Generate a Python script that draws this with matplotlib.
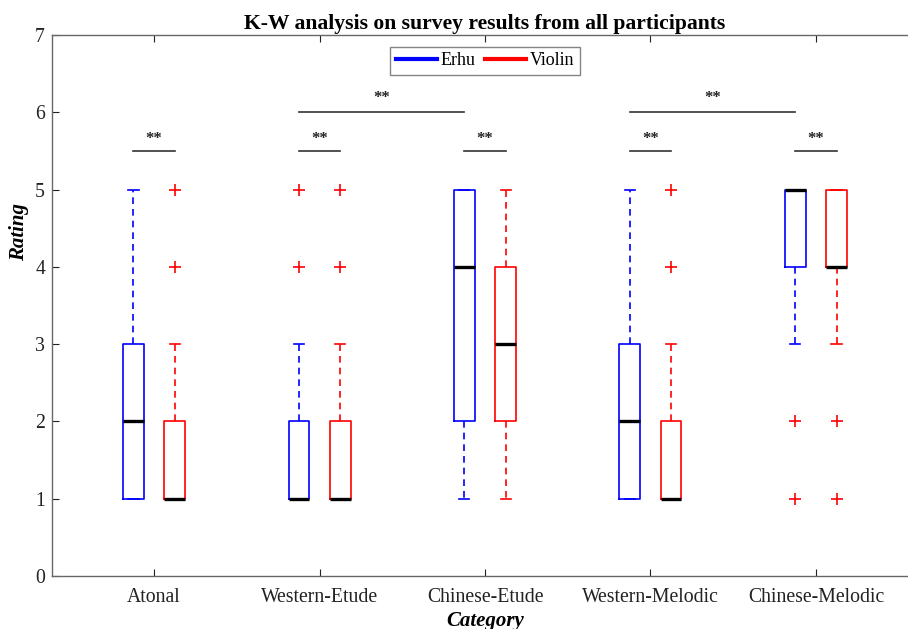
import matplotlib
matplotlib.use('Agg')
import matplotlib.pyplot as plt
from matplotlib.lines import Line2D

plt.rcParams['font.family'] = ['Liberation Serif', 'DejaVu Serif']

# Categorias e estatisticas (Erhu / Violin)
categories = ['Atonal', 'Western-Etude', 'Chinese-Etude', 'Western-Melodic', 'Chinese-Melodic']

erhu_whislo = [1, 1, 1, 1, 3]
erhu_q1 = [1, 1, 2, 1, 4]
erhu_med = [2, 1, 4, 2, 5]
erhu_q3 = [3, 2, 5, 3, 5]
erhu_whishi = [5, 3, 5, 5, 5]
erhu_fliers = [[], [4, 5], [], [], [1, 2]]

violin_whislo = [1, 1, 1, 1, 3]
violin_q1 = [1, 1, 2, 1, 4]
violin_med = [1, 1, 3, 1, 4]
violin_q3 = [2, 2, 4, 2, 5]
violin_whishi = [3, 3, 5, 3, 5]
violin_fliers = [[4, 5], [4, 5], [], [4, 5], [1, 2]]

# Barras de significancia: (x inicio, x fim, y, texto)
sig_x0 = [0.875, 1.875, 2.875, 3.875, 4.875, 1.875, 3.875]
sig_x1 = [1.125, 2.125, 3.125, 4.125, 5.125, 2.875, 4.875]
sig_y = [5.5, 5.5, 5.5, 5.5, 5.5, 6.0, 6.0]
sig_text = ['**'] * 7

offset = 0.125
width = 0.125


def make_stats(whislo, q1, med, q3, whishi, fliers):
    return [dict(whislo=a, q1=b, med=c, q3=d, whishi=e, fliers=f)
            for a, b, c, d, e, f in zip(whislo, q1, med, q3, whishi, fliers)]


fig = plt.figure(figsize=(9.08, 6.29), dpi=100)
ax = fig.add_axes([52 / 908, 53 / 629, 866 / 908, 541 / 629])

groups = [
    (make_stats(erhu_whislo, erhu_q1, erhu_med, erhu_q3, erhu_whishi, erhu_fliers), -offset, 'blue'),
    (make_stats(violin_whislo, violin_q1, violin_med, violin_q3, violin_whishi, violin_fliers), offset, 'red'),
]
for stats, off, color in groups:
    pos = [i + 1 + off for i in range(len(categories))]
    ax.bxp(stats, positions=pos, widths=width, showfliers=True,
           boxprops=dict(color=color, linewidth=1.2),
           whiskerprops=dict(color=color, linewidth=1.2, linestyle=(0, (4, 3))),
           capprops=dict(color=color, linewidth=1.2),
           medianprops=dict(color='black', linewidth=2.4),
           flierprops=dict(marker='+', markeredgecolor='red', markersize=8,
                           markeredgewidth=1.2, linestyle='none'),
           manage_ticks=False)

# Barras de significancia
for x0, x1, y, t in zip(sig_x0, sig_x1, sig_y, sig_text):
    ax.plot([x0, x1], [y, y], color='#333333', linewidth=1.2)
    ty = y + 0.16 if y < 5.9 else y + 0.19
    ax.text((x0 + x1) / 2, ty, t, ha='center', va='center', fontsize=12,
            fontweight='bold', color='#222222')

ax.set_xlim(0.383, 5.617)
ax.set_ylim(0, 7)
ax.set_xticks(range(1, len(categories) + 1))
ax.set_xticklabels(categories)
ax.set_yticks(range(0, 8))
ax.tick_params(direction='in', top=True, right=True, labelsize=14.2,
               colors='#222222', length=5, width=0.8)
ax.tick_params(axis='x', pad=9)
ax.tick_params(axis='y', pad=5)
for sp in ax.spines.values():
    sp.set_color('#666666')
    sp.set_linewidth(1.0)

ax.set_title('K-W analysis on survey results from all participants',
             fontsize=15.6, fontweight='bold', pad=4)
ax.set_xlabel('Category', fontsize=15, fontweight='bold', style='italic')
ax.set_ylabel('Rating', fontsize=15, fontweight='bold', style='italic')
ax.xaxis.set_label_coords(0.5, -0.064)
ax.yaxis.set_label_coords(-0.027, 0.636)

handles = [Line2D([], [], color='blue', linewidth=3),
           Line2D([], [], color='red', linewidth=3)]
ax.legend(handles, ['Erhu', 'Violin'], loc='upper center', ncol=2,
          bbox_to_anchor=(0.5, 0.978), fontsize=13, frameon=True, fancybox=False,
          edgecolor='#666666', handlelength=2.3, columnspacing=0.5,
          handletextpad=0.2, borderpad=0.3, borderaxespad=0.0)

fig.savefig('out.png', dpi=100)
